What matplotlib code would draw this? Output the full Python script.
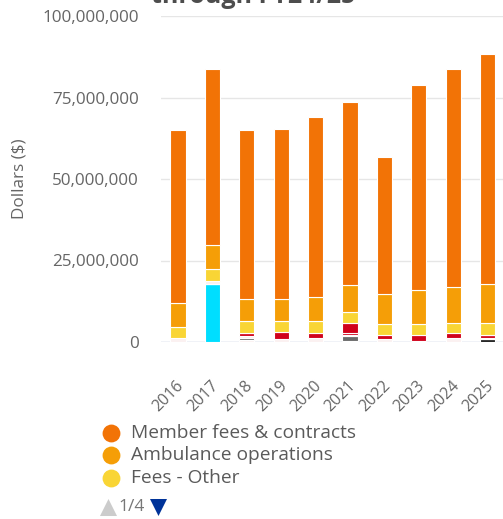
import matplotlib
matplotlib.use("Agg")
import matplotlib.pyplot as plt
from matplotlib.ticker import FuncFormatter
import matplotlib.transforms as mtransforms
import numpy as np

plt.rcParams['font.family'] = ['Open Sans', 'DejaVu Sans']

# Revenue by source, in millions of dollars, per fiscal year
years = ["2016", "2017", "2018", "2019", "2020", "2021", "2022", "2023", "2024", "2025"]

member_fees = [52.95, 53.9, 51.67, 52.19, 55.25, 56.23, 42.03, 62.72, 66.88, 70.62]
ambulance_ops = [7.41, 7.4, 6.86, 6.86, 7.35, 8.2, 9.12, 10.47, 11.02, 11.88]
fees_other = [3.15, 3.6, 3.58, 3.31, 3.73, 3.31, 3.34, 3.34, 3.06, 3.64]
source_red_main = [0, 0, 0, 1.99, 1.38, 3.12, 1.16, 1.78, 1.44, 0]
source_red_minor = [0, 0, 0.86, 0, 0, 0.77, 0, 0, 0, 1.1]
source_pale_mid = [0, 0.9, 0.64, 0, 0, 0.3, 0, 0, 0, 0.2]
source_grey = [0, 0, 0.77, 0, 0, 1.35, 0, 0, 0, 0]
source_black = [0, 0, 0, 0, 0, 0, 0, 0, 0, 0.92]
source_cyan = [0, 17.9, 0, 0, 0, 0, 0, 0, 0, 0]
source_pale_base = [1.38, 0, 0.52, 1.07, 1.38, 0.4, 1.07, 0.46, 1.38, 0]

legend_names = ["Member fees & contracts", "Ambulance operations", "Fees - Other"]
page_label = "1/4"
y_label = "Dollars ($)"
title_text = "through FY24/25"

# stacked bottom to top
stack = [
    (source_pale_base, "#FBF1F1"),
    (source_cyan, "#00DEFF"),
    (source_black, "#1C1C1C"),
    (source_grey, "#6B6B6B"),
    (source_pale_mid, "#FBF1F1"),
    (source_red_minor, "#D0021B"),
    (source_red_main, "#D0021B"),
    (fees_other, "#F9D535"),
    (ambulance_ops, "#F59E07"),
    (member_fees, "#F27306"),
]

W, H = 503, 519
fig = plt.figure(figsize=(W / 100, H / 100), dpi=100)
fig.patch.set_facecolor("white")

left_px, right_px, top_px, base_px = 160.8, 504.8, 16.0, 342.0
ax = fig.add_axes([left_px / W, (H - base_px) / H, (right_px - left_px) / W, (base_px - top_px) / H])

x = np.arange(len(years))
bottom = np.zeros(len(years))
for vals, col in stack:
    v = np.array(vals, dtype=float) * 1e6
    ax.bar(x, v, bottom=bottom, width=0.44, color=col, edgecolor="white",
           linewidth=0.8, zorder=3)
    bottom += v

ax.set_xlim(-0.5, len(years) - 0.5)
ax.set_ylim(0, 100e6)
ax.set_yticks([0, 25e6, 50e6, 75e6, 100e6])
ax.yaxis.set_major_formatter(FuncFormatter(lambda v, p: f"{int(v):,}"))
ax.grid(axis="y", color="#e6e6e6", linewidth=1.0, zorder=0)
ax.set_axisbelow(True)
for s in ax.spines.values():
    s.set_visible(False)
ax.axhline(0, color="#ccd6eb", linewidth=1.0, zorder=2)
ax.tick_params(axis="y", length=0, pad=16, labelsize=12.3, labelcolor="#666666")
ax.tick_params(axis="x", length=0, pad=8, labelsize=11.5, labelcolor="#666666")
ax.set_xticks(x)
ax.set_xticklabels(years, rotation=45, ha="right", rotation_mode="anchor")
shift = mtransforms.ScaledTranslation(-2 / 100, -25 / 100, fig.dpi_scale_trans)
for lbl in ax.get_xticklabels():
    lbl.set_transform(lbl.get_transform() + shift)
ax.set_ylabel(y_label, fontsize=12.3, color="#666666")
ax.yaxis.set_label_coords(-(left_px - 28) / (right_px - left_px), 0.5)

# overlay in pixel coordinates for title and legend
ov = fig.add_axes([0, 0, 1, 1], facecolor="none")
ov.set_xlim(0, W)
ov.set_ylim(H, 0)
ov.axis("off")

ov.text(151, 3, title_text, fontsize=18, fontweight="bold", color="#4d4d4d",
        ha="left", va="baseline")

legend_colors = ["#F27306", "#F59E07", "#F9D535"]
row_y = [432.7, 455.0, 478.3]
for name, col, yy in zip(legend_names, legend_colors, row_y):
    ov.scatter([110.7], [yy], s=165, color=col, zorder=5, linewidths=0)
    ov.text(131, yy, name, fontsize=13.8, color="#5a5a5a", ha="left", va="center")

ov.scatter([108], [507], marker="^", s=150, color="#cccccc", linewidths=0)
ov.text(131.5, 507, page_label, fontsize=12.5, color="#777777", ha="center", va="center")
ov.scatter([158], [507], marker="v", s=150, color="#003399", linewidths=0)

fig.savefig("out.png", dpi=100, facecolor="white")
